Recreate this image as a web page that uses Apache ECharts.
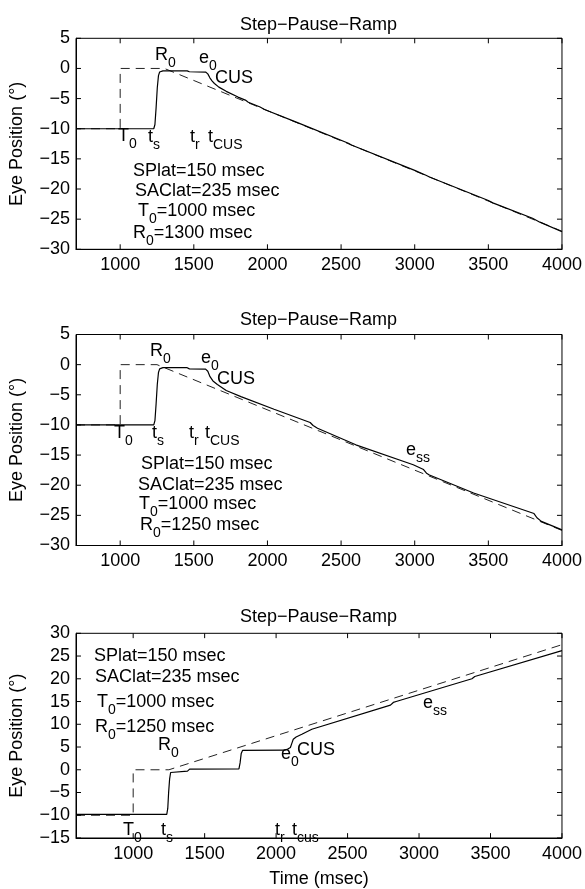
<!DOCTYPE html>
<html>
<head>
<meta charset="utf-8">
<script src="https://cdn.jsdelivr.net/npm/echarts@6/dist/echarts.min.js"></script>
<style>
  html, body { margin: 0; padding: 0; background: #fff; }
  #main { width: 585px; height: 889px; }
</style>
</head>
<body>
<div id="main"></div>
<script>
// panel 1 : R0 = 1300 msec, ramp going down
var targetTime1 = [700, 1000, 1000, 1300, 4000];
var targetPos1  = [-10, -10, 0, 0, -27];
var eyeTime1 = [700, 1228, 1236, 1244, 1252, 1260, 1268, 1290, 1455, 1470, 1580, 1595, 1610, 1625, 1640, 1670, 1720, 1800, 1850, 1870, 1950, 1980, 2200, 2550, 2570, 3000, 3080, 3100, 3500, 3530, 3800, 3850, 3870, 4000];
var eyePos1  = [-10, -10, -9.3, -6.5, -3.2, -1.2, -0.6, -0.4, -0.4, -0.55, -0.6, -0.9, -1.6, -2.1, -2.5, -3.1, -3.8, -4.75, -5.25, -5.6, -6.4, -6.8, -8.95, -12.4, -12.7, -16.9, -17.75, -18.0, -21.9, -22.3, -24.85, -25.5, -25.7, -27.1];

// panel 2 : R0 = 1250 msec, ramp going down
var targetTime2 = [700, 1000, 1000, 1250, 4000];
var targetPos2  = [-10, -10, 0, 0, -27.5];
var eyeTime2 = [700, 1228, 1236, 1244, 1252, 1260, 1268, 1290, 1455, 1470, 1580, 1595, 1610, 1630, 1660, 1720, 1820, 2045, 2290, 2310, 2340, 2600, 2990, 3060, 3080, 3100, 3400, 3810, 3830, 3860, 4000];
var eyePos2  = [-10, -10, -9.3, -6.5, -3.3, -1.3, -0.7, -0.5, -0.5, -0.7, -0.75, -1.1, -2.0, -2.7, -3.3, -4.3, -5.3, -7.4, -9.6, -10.1, -10.55, -13.3, -16.6, -17.4, -18.0, -18.3, -21.3, -24.7, -25.4, -26.0, -27.4];

// panel 3 : R0 = 1250 msec, ramp going up
var targetTime3 = [600, 1000, 1000, 1250, 4000];
var targetPos3  = [-10, -10, 0, 0, 27.5];
var eyeTime3 = [600, 1235, 1242, 1248, 1255, 1262, 1272, 1380, 1395, 1740, 1748, 1756, 1765, 2060, 2085, 2100, 2110, 2120, 2140, 2180, 2250, 2800, 2820, 2840, 3370, 3390, 4000];
var eyePos3  = [-9.8, -9.8, -8.5, -5, -2, -0.6, -0.35, -0.3, 0.15, 0.2, 1.5, 3.6, 4.25, 4.3, 4.6, 4.9, 5.8, 6.7, 7.2, 7.8, 8.9, 14.2, 14.8, 15.0, 20.0, 20.5, 26.2];

// axes
var xRanges = [[700, 4000], [700, 4000], [600, 4000]];
var yRanges = [[-30, 5], [-30, 5], [-15, 30]];
var xTicks = [1000, 1500, 2000, 2500, 3000, 3500, 4000];
var yTicksDown = [-30, -25, -20, -15, -10, -5, 0, 5];
var yTicksUp = [-15, -10, -5, 0, 5, 10, 15, 20, 25, 30];
var panelTitle = 'Step\u2212Pause\u2212Ramp';

var FONT = '"Liberation Sans", Arial, Helvetica, sans-serif';
var GRID_W = 487, GRID_H = 211, TICK = 5;
var myChart = echarts.init(document.getElementById('main'));

function zip(ts, vs) {
    return ts.map(function (t, i) { return [t, vs[i]]; });
}

var gridTops = [38.3, 334.5, 633.3];
var titleTops = [16, 311, 608];
var grids = [], xAxes = [], yAxes = [], titles = [];

for (var i = 0; i < 3; i++) {
    grids.push({ left: 75, width: GRID_W, top: gridTops[i], height: GRID_H });
    titles.push({
        text: panelTitle, left: 240, top: titleTops[i], padding: 0,
        textStyle: { fontFamily: FONT, fontSize: 18, fontWeight: 'normal', color: '#000' }
    });
    xAxes.push({
        type: 'value', gridIndex: i, position: 'bottom',
        min: xRanges[i][0], max: xRanges[i][1],
        minInterval: 500, maxInterval: 500,
        splitLine: { show: false },
        axisLine: { show: true, onZero: false, lineStyle: { color: '#000', width: 1 } },
        axisTick: { show: false },
        axisLabel: {
            fontFamily: FONT, fontSize: 18, color: '#000', margin: 7,
            formatter: function (v) { return (v % 500 === 0 && v >= 1000) ? String(v) : ''; }
        },
        name: i === 2 ? 'Time (msec)' : '',
        nameLocation: 'middle', nameGap: 32,
        nameTextStyle: { fontFamily: FONT, fontSize: 18, color: '#000' }
    });
    yAxes.push({
        type: 'value', gridIndex: i, position: 'left',
        min: yRanges[i][0], max: yRanges[i][1], interval: 5,
        splitLine: { show: false },
        axisLine: { show: true, onZero: false, lineStyle: { color: '#000', width: 1 } },
        axisTick: { show: false },
        axisLabel: {
            fontFamily: FONT, fontSize: 18, color: '#000', margin: 6,
            formatter: function (v) { return String(v).replace('-', '\u2212'); }
        },
        name: 'Eye Position (\u00b0)',
        nameLocation: 'middle', nameGap: 50,
        nameTextStyle: { fontFamily: FONT, fontSize: 18, color: '#000' }
    });
}

// box and inward tick marks, as line pieces in data space
function frameData(k) {
    var x0 = xRanges[k][0], x1 = xRanges[k][1], y0 = yRanges[k][0], y1 = yRanges[k][1];
    return [[x0, y0], [x1, y0], [x1, y1], [x0, y1], [x0, y0]];
}
function tickData(k, xt, yt) {
    var x0 = xRanges[k][0], x1 = xRanges[k][1], y0 = yRanges[k][0], y1 = yRanges[k][1];
    var dy = (y1 - y0) * TICK / GRID_H, dx = (x1 - x0) * TICK / GRID_W;
    var pts = [];
    xt.forEach(function (v) {
        pts.push([v, y0], [v, y0 + dy], ['-', '-'], [v, y1], [v, y1 - dy], ['-', '-']);
    });
    yt.forEach(function (v) {
        pts.push([x0, v], [x0 + dx, v], ['-', '-'], [x1, v], [x1 - dx, v], ['-', '-']);
    });
    return pts;
}

var eyeData = [zip(eyeTime1, eyePos1), zip(eyeTime2, eyePos2), zip(eyeTime3, eyePos3)];
var targetData = [zip(targetTime1, targetPos1), zip(targetTime2, targetPos2), zip(targetTime3, targetPos3)];
var yTickSets = [yTicksDown, yTicksDown, yTicksUp];
var series = [];
for (var k = 0; k < 3; k++) {
    series.push({
        type: 'line', xAxisIndex: k, yAxisIndex: k,
        data: targetData[k], symbol: 'none',
        lineStyle: { color: '#222', width: 1, type: [9, 6] }
    });
    series.push({
        type: 'line', xAxisIndex: k, yAxisIndex: k,
        data: eyeData[k], symbol: 'none',
        lineStyle: { color: '#000', width: 1.2 }
    });
    series.push({
        type: 'line', xAxisIndex: k, yAxisIndex: k, clip: false,
        data: frameData(k), symbol: 'none',
        lineStyle: { color: '#000', width: 1 }
    });
    series.push({
        type: 'line', xAxisIndex: k, yAxisIndex: k, clip: false, connectNulls: false,
        data: tickData(k, xTicks, yTickSets[k]), symbol: 'none',
        lineStyle: { color: '#000', width: 1 }
    });
}

// text labels with subscripts (odd parts are subscripts)
var rich = {
    n: { fontFamily: FONT, fontSize: 18, lineHeight: 24, verticalAlign: 'top', color: '#000' },
    b: { fontFamily: FONT, fontSize: 14, lineHeight: 14, verticalAlign: 'bottom', color: '#000' }
};
function lab(x, y, parts) {
    var s = parts.map(function (p, j) { return '{' + (j % 2 ? 'b' : 'n') + '|' + p + '}'; }).join('');
    return {
        type: 'text', x: x, y: y + 3, silent: true,
        style: { text: s, rich: rich, align: 'left', verticalAlign: 'middle', font: '18px ' + FONT }
    };
}

var notes = [
    // panel 1
    lab(155, 55, ['R', '0']), lab(199, 58, ['e', '0']), lab(215, 78, ['CUS']),
    lab(118, 136, ['T', '0']), lab(148, 137, ['t', 's']), lab(190, 137, ['t', 'r']), lab(208, 137, ['t', 'CUS']),
    lab(133, 171, ['SPlat=150 msec']), lab(135, 191, ['SAClat=235 msec']),
    lab(138, 211, ['T', '0', '=1000 msec']), lab(133, 233, ['R', '0', '=1300 msec']),
    // panel 2
    lab(150, 351, ['R', '0']), lab(201, 358, ['e', '0']), lab(217, 379, ['CUS']),
    lab(114, 433, ['T', '0']), lab(152, 433, ['t', 's']), lab(189, 433, ['t', 'r']), lab(205, 433, ['t', 'CUS']),
    lab(406, 450, ['e', 'ss']),
    lab(141, 464, ['SPlat=150 msec']), lab(138, 485, ['SAClat=235 msec']),
    lab(139, 504, ['T', '0', '=1000 msec']), lab(140, 525, ['R', '0', '=1250 msec']),
    // panel 3
    lab(94, 656, ['SPlat=150 msec']), lab(95, 677, ['SAClat=235 msec']),
    lab(97, 702, ['T', '0', '=1000 msec']), lab(95, 727, ['R', '0', '=1250 msec']),
    lab(158, 745, ['R', '0']), lab(281, 754, ['e', '0']), lab(297, 750, ['CUS']),
    lab(423, 703, ['e', 'ss']),
    lab(123, 830, ['T', '0']), lab(161, 830, ['t', 's']), lab(275, 830, ['t', 'r']), lab(292, 830, ['t', 'cus'])
];

myChart.setOption({
    animation: false,
    title: titles,
    grid: grids,
    xAxis: xAxes,
    yAxis: yAxes,
    series: series,
    graphic: notes
});
</script>
</body>
</html>
